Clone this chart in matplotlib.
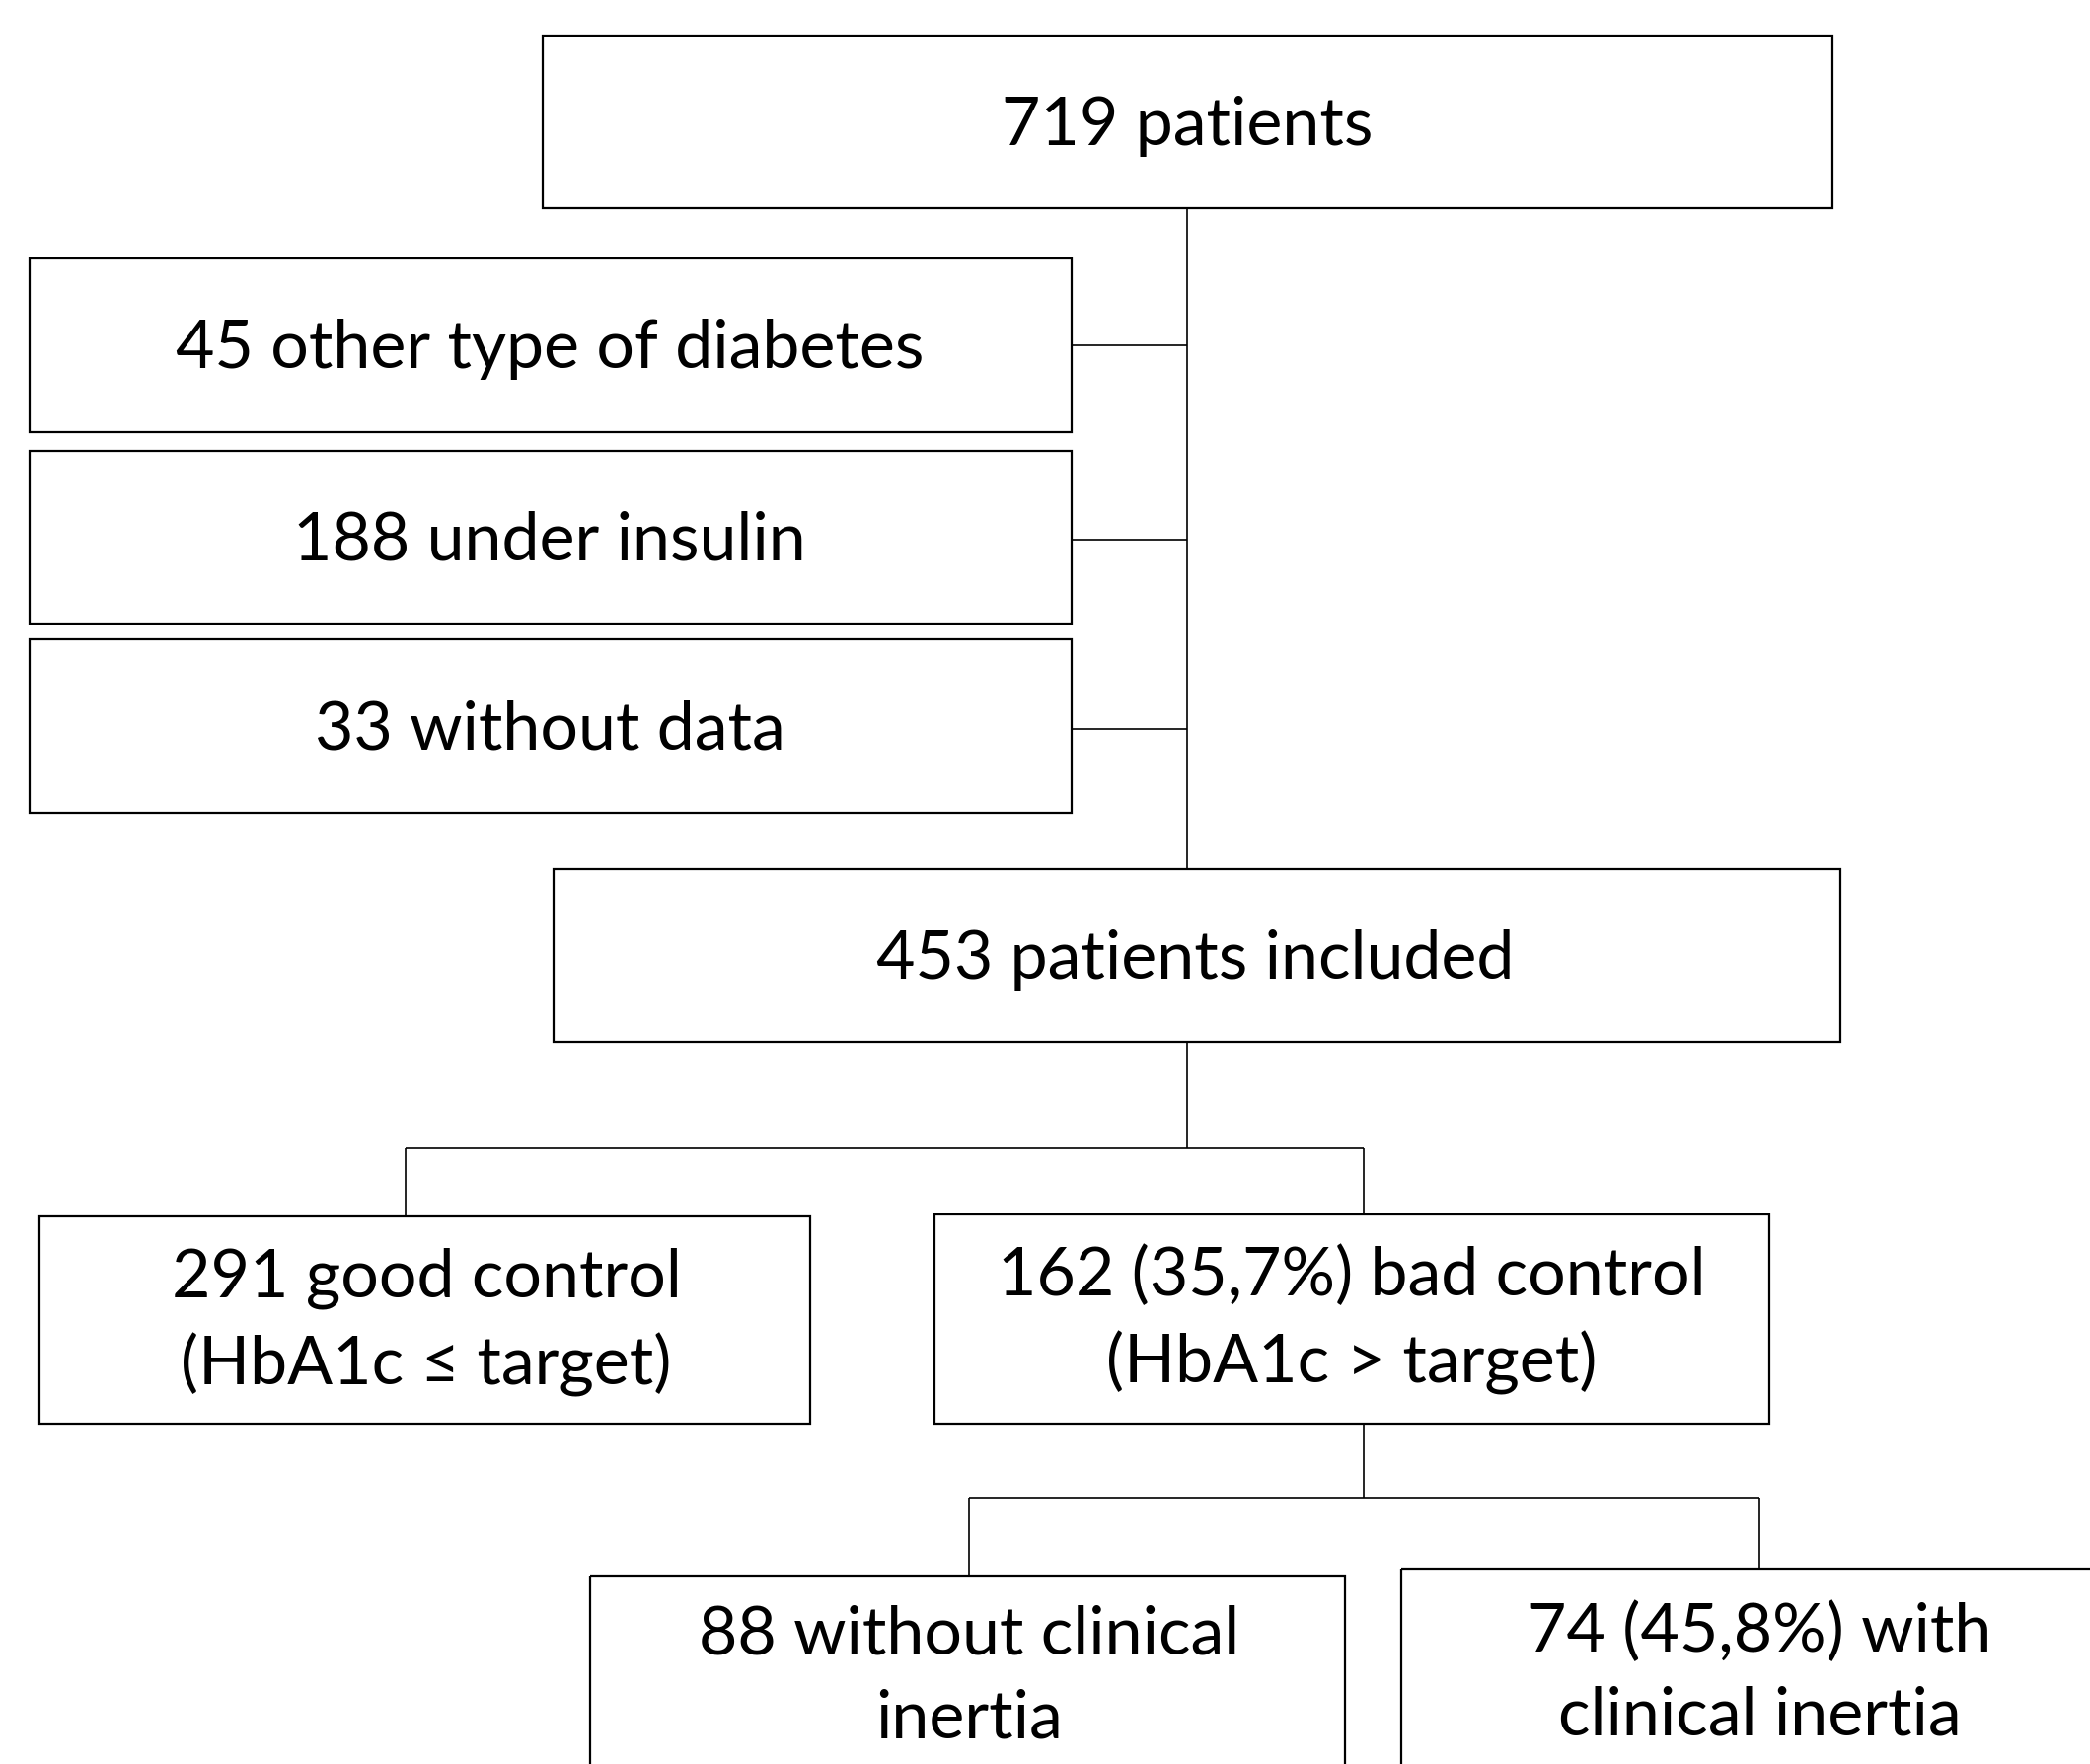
import matplotlib
matplotlib.use("Agg")
import matplotlib.pyplot as plt
from matplotlib.patches import Rectangle

# ---- content ----
box_labels = [
    "719 patients",
    "45 other type of diabetes",
    "188 under insulin",
    "33 without data",
    "453 patients included",
    "291 good control\n(HbA1c \u2264 target)",
    "162 (35,7%) bad control\n(HbA1c > target)",
    "88 without clinical\ninertia",
    "74 (45,8%) with\nclinical inertia",
]

# ---- layout (pixel coords: x0, y0, x1, y1) ----
box_geom = [
    (550, 36, 1857, 211),
    (30, 262, 1086, 438),
    (30, 457, 1086, 632),
    (30, 648, 1086, 824),
    (561, 881, 1865, 1056),
    (40, 1233, 821, 1443),
    (947, 1231, 1793, 1443),
    (598, 1597, 1363, 1900),
    (1420, 1590, 2200, 1900),
]
text_pos = [
    (1203, 128),
    (557, 354),
    (557, 549),
    (557, 740),
    (1211, 973),
    (432, 1340),
    (1370, 1338),
    (982, 1700),
    (1783, 1697),
]

lines = [
    ((1203, 1203), (211, 881)),
    ((1086, 1203), (350, 350)),
    ((1086, 1203), (547, 547)),
    ((1086, 1203), (739, 739)),
    ((1203, 1203), (1056, 1164)),
    ((411, 1382), (1164, 1164)),
    ((411, 411), (1164, 1233)),
    ((1382, 1382), (1164, 1231)),
    ((1382, 1382), (1443, 1518)),
    ((982, 1783), (1518, 1518)),
    ((982, 982), (1518, 1597)),
    ((1783, 1783), (1518, 1590)),
]

W, H = 2118, 1788
dpi = 100
fig = plt.figure(figsize=(W / dpi, H / dpi), dpi=dpi)
ax = fig.add_axes([0, 0, 1, 1])
ax.set_xlim(0, W)
ax.set_ylim(H, 0)
ax.axis("off")

for (x0, y0, x1, y1) in box_geom:
    ax.add_patch(Rectangle((x0, y0), x1 - x0, y1 - y0, fill=False,
                           edgecolor="black", linewidth=1.6, clip_on=False))

for xs, ys in lines:
    ax.plot(xs, ys, color="black", linewidth=1.2, solid_capstyle="butt")

for label, (x, y) in zip(box_labels, text_pos):
    ax.text(x, y, label, ha="center", va="center", fontsize=49,
            family=["Lato", "DejaVu Sans"], color="black", linespacing=1.45)

fig.savefig("out.png", dpi=dpi, facecolor="white")
